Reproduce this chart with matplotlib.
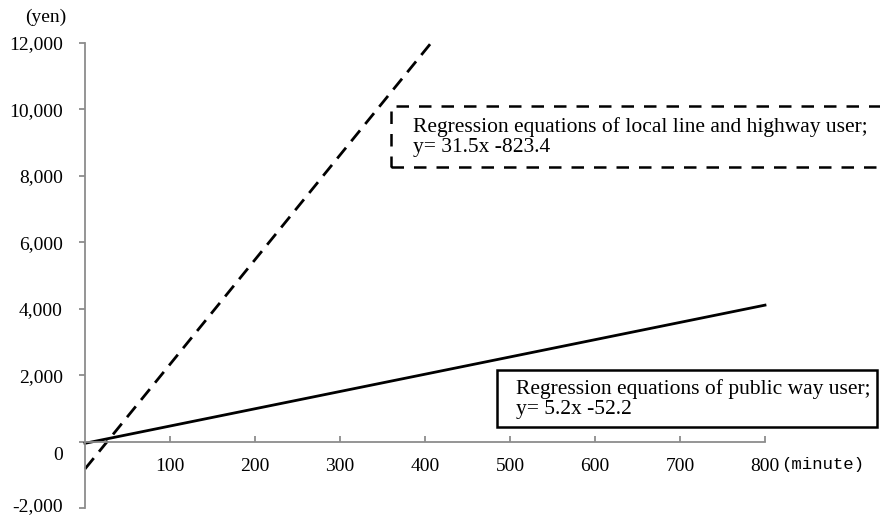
import numpy as np
import matplotlib
matplotlib.use("Agg")
import matplotlib.pyplot as plt
from matplotlib.patches import Rectangle
from matplotlib.ticker import FuncFormatter
import matplotlib.transforms as mtransforms

# Data
x_ticks = [100, 200, 300, 400, 500, 600, 700, 800]
y_ticks = [-2000, 0, 2000, 4000, 6000, 8000, 10000, 12000]
local_slope, local_intercept = 31.5, -823.4
public_slope, public_intercept = 5.2, -52.2
local_x = [0, (12000 - local_intercept) / local_slope]
public_x = [0, 800]
local_label = "Regression equations of local line and highway user;\ny= 31.5x -823.4"
public_label = "Regression equations of public way user;\ny= 5.2x -52.2"

W, H = 880, 517
fig = plt.figure(figsize=(W / 100, H / 100), dpi=100)
ax = fig.add_axes([85 / W, 1 - 508 / H, 680 / W, 465 / H])
ax.set_xlim(0, 800)
ax.set_ylim(-2000, 12000)

serif = ["Liberation Serif", "DejaVu Serif"]

ly = [local_slope * x + local_intercept for x in local_x]
py = [public_slope * x + public_intercept for x in public_x]
ax.plot(local_x, ly, color="black", lw=2.0, linestyle=(0, (5, 3)), clip_on=False)
ax.plot(public_x, py, color="black", lw=2.0, clip_on=False)

grey = "#8c8c8c"
for s in ["top", "right"]:
    ax.spines[s].set_visible(False)
ax.spines["left"].set_color(grey)
ax.spines["bottom"].set_color(grey)
ax.spines["left"].set_linewidth(1.3)
ax.spines["bottom"].set_linewidth(1.3)
ax.spines["bottom"].set_position(("data", 0))

ax.set_yticks(y_ticks)
ax.yaxis.set_major_formatter(FuncFormatter(lambda v, p: f"{int(v):,}"))
ax.tick_params(axis="y", direction="out", length=4, width=1.3, color=grey,
               labelsize=14, pad=12)
ax.set_xticks(x_ticks)
ax.tick_params(axis="x", direction="in", length=4, width=1.3, color=grey,
               labelsize=14, pad=12)
for lab in ax.get_xticklabels() + ax.get_yticklabels():
    lab.set_fontfamily(serif)

fig.canvas.draw()
for lab in ax.get_yticklabels():
    if lab.get_text() == "0":
        lab.set_transform(lab.get_transform() + mtransforms.ScaledTranslation(0, -12 / 100, fig.dpi_scale_trans))
    elif lab.get_text() == "-2,000":
        lab.set_transform(lab.get_transform() + mtransforms.ScaledTranslation(0, 3 / 100, fig.dpi_scale_trans))

fig.text(781 / W, 1 - 465 / H, "(minute)", fontsize=12.5,
         family=["Liberation Mono", "DejaVu Sans Mono"], ha="left", va="center")
fig.text(66 / W, 1 - 17 / H, "(yen)", fontsize=14, family=serif, ha="right", va="center")

# annotation boxes (figure pixel coordinates)
fig.patches.append(Rectangle((391 / W, 1 - 167 / H), 520 / W, 61 / H,
                             transform=fig.transFigure, fill=False, ec="black",
                             lw=1.8, linestyle=(0, (5, 4)), clip_on=False))
fig.text(413 / W, 1 - 137 / H, local_label, fontsize=15.5, family=serif,
         ha="left", va="center", linespacing=1.12)

fig.patches.append(Rectangle((497 / W, 1 - 427 / H), 380 / W, 57 / H,
                             transform=fig.transFigure, fill=False, ec="black",
                             lw=1.8, clip_on=False))
fig.text(516 / W, 1 - 399 / H, public_label, fontsize=15.5, family=serif,
         ha="left", va="center", linespacing=1.12)

fig.savefig("out.png", dpi=100)
